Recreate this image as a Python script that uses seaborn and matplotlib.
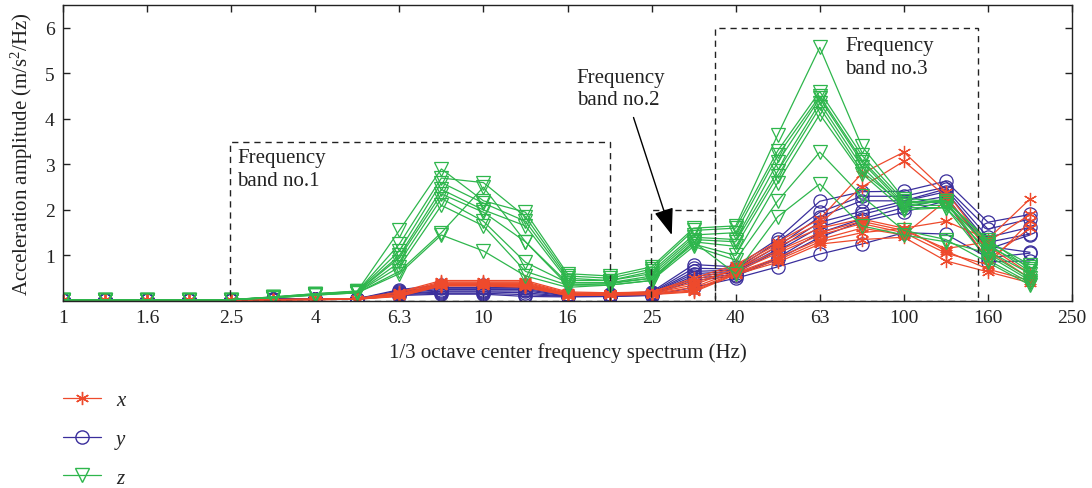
import numpy as np
import pandas as pd
import matplotlib
matplotlib.use("Agg")
import matplotlib.pyplot as plt
from matplotlib.lines import Line2D
from matplotlib.patches import Rectangle
import seaborn as sns

# 1/3 octave centre frequencies (Hz) of the measured bands
freqs = [1, 1.25, 1.6, 2, 2.5, 3.15, 4, 5, 6.3, 8, 10, 12.5, 16, 20,
         25, 31.5, 40, 50, 63, 80, 100, 125, 160, 200]
tick_labels = ["1", "1.6", "2.5", "4", "6.3", "10", "16", "25", "40",
               "63", "100", "160", "250"]

# acceleration amplitude spectra, one list per measuring point, x direction
x_runs = [
    [0.02, 0.02, 0.02, 0.02, 0.02, 0.03, 0.04, 0.05, 0.20, 0.45, 0.45, 0.45, 0.20, 0.18, 0.20, 0.50, 0.80, 1.30, 1.80, 2.80, 3.27, 2.40, 1.20, 0.60],
    [0.02, 0.02, 0.02, 0.02, 0.02, 0.03, 0.04, 0.05, 0.18, 0.42, 0.42, 0.42, 0.18, 0.17, 0.20, 0.45, 0.75, 1.25, 1.70, 2.50, 3.07, 2.30, 1.10, 0.50],
    [0.02, 0.02, 0.02, 0.02, 0.02, 0.03, 0.04, 0.04, 0.15, 0.40, 0.40, 0.40, 0.16, 0.16, 0.18, 0.40, 0.70, 1.20, 1.60, 1.80, 1.60, 1.75, 1.36, 2.24],
    [0.02, 0.02, 0.02, 0.02, 0.02, 0.03, 0.04, 0.04, 0.14, 0.38, 0.38, 0.38, 0.15, 0.15, 0.17, 0.35, 0.70, 1.10, 1.50, 1.75, 1.55, 1.15, 1.30, 1.90],
    [0.02, 0.02, 0.02, 0.02, 0.02, 0.03, 0.03, 0.04, 0.13, 0.36, 0.37, 0.36, 0.14, 0.14, 0.16, 0.30, 0.65, 1.05, 1.45, 1.70, 1.50, 1.05, 0.80, 1.75],
    [0.02, 0.02, 0.02, 0.02, 0.02, 0.03, 0.03, 0.04, 0.12, 0.35, 0.35, 0.34, 0.13, 0.14, 0.15, 0.25, 0.62, 0.95, 1.35, 1.60, 1.45, 2.20, 0.90, 1.60],
    [0.02, 0.02, 0.02, 0.02, 0.02, 0.02, 0.03, 0.04, 0.11, 0.34, 0.34, 0.32, 0.12, 0.13, 0.15, 0.22, 0.60, 0.90, 1.30, 1.50, 1.60, 1.10, 0.70, 0.45],
    [0.02, 0.02, 0.02, 0.02, 0.02, 0.02, 0.03, 0.04, 0.10, 0.33, 0.33, 0.30, 0.12, 0.13, 0.14, 0.20, 0.58, 0.85, 1.25, 1.35, 1.40, 0.88, 0.64, 0.40],
]

# y direction
y_runs = [
    [0.03, 0.03, 0.03, 0.03, 0.03, 0.04, 0.05, 0.05, 0.25, 0.35, 0.35, 0.35, 0.15, 0.15, 0.20, 0.80, 0.75, 1.36, 2.19, 2.40, 2.41, 2.63, 1.73, 1.90],
    [0.03, 0.03, 0.03, 0.03, 0.03, 0.04, 0.05, 0.05, 0.22, 0.30, 0.30, 0.30, 0.14, 0.14, 0.18, 0.72, 0.70, 1.30, 1.95, 2.30, 2.30, 2.50, 1.58, 1.80],
    [0.03, 0.03, 0.03, 0.03, 0.03, 0.04, 0.05, 0.05, 0.20, 0.28, 0.28, 0.28, 0.13, 0.13, 0.17, 0.65, 0.68, 1.20, 1.85, 2.20, 2.20, 2.46, 1.40, 1.62],
    [0.03, 0.03, 0.03, 0.03, 0.03, 0.04, 0.05, 0.05, 0.18, 0.25, 0.25, 0.25, 0.12, 0.12, 0.16, 0.60, 0.65, 1.14, 1.73, 1.97, 2.19, 2.40, 1.29, 1.47],
    [0.03, 0.03, 0.03, 0.03, 0.03, 0.04, 0.04, 0.05, 0.16, 0.22, 0.22, 0.22, 0.11, 0.12, 0.15, 0.55, 0.62, 1.10, 1.62, 1.90, 2.13, 2.30, 1.14, 1.45],
    [0.03, 0.03, 0.03, 0.03, 0.03, 0.03, 0.04, 0.05, 0.15, 0.20, 0.20, 0.18, 0.10, 0.11, 0.14, 0.50, 0.58, 0.95, 1.50, 1.80, 2.05, 2.24, 1.20, 1.07],
    [0.03, 0.03, 0.03, 0.03, 0.03, 0.03, 0.04, 0.04, 0.14, 0.17, 0.17, 0.14, 0.10, 0.10, 0.13, 0.45, 0.55, 0.92, 1.40, 1.75, 1.95, 2.20, 0.86, 0.88],
    [0.03, 0.03, 0.03, 0.03, 0.03, 0.03, 0.04, 0.04, 0.12, 0.15, 0.15, 0.10, 0.09, 0.10, 0.12, 0.30, 0.50, 0.75, 1.03, 1.25, 1.50, 1.47, 0.95, 1.05],
]

# z direction
z_runs = [
    [0.03, 0.03, 0.03, 0.03, 0.03, 0.09, 0.16, 0.22, 1.55, 2.90, 2.20, 1.95, 0.60, 0.55, 0.75, 1.60, 1.65, 3.65, 5.57, 3.40, 2.25, 2.20, 1.30, 0.80],
    [0.03, 0.03, 0.03, 0.03, 0.03, 0.09, 0.16, 0.21, 1.25, 2.70, 2.60, 1.85, 0.55, 0.50, 0.70, 1.55, 1.60, 3.30, 4.60, 3.20, 2.20, 2.15, 1.20, 0.75],
    [0.03, 0.03, 0.03, 0.03, 0.03, 0.08, 0.15, 0.21, 1.10, 2.60, 2.15, 1.75, 0.50, 0.45, 0.65, 1.45, 1.50, 3.20, 4.50, 3.10, 2.15, 2.20, 1.35, 0.70],
    [0.03, 0.03, 0.03, 0.03, 0.03, 0.08, 0.15, 0.20, 1.00, 2.45, 2.00, 1.65, 0.45, 0.45, 0.60, 1.40, 1.35, 3.05, 4.45, 3.05, 2.10, 2.10, 1.25, 0.65],
    [0.03, 0.03, 0.03, 0.03, 0.03, 0.08, 0.15, 0.20, 0.95, 2.35, 1.95, 1.30, 0.40, 0.40, 0.55, 1.35, 1.30, 2.85, 4.35, 2.95, 2.05, 2.05, 1.10, 0.60],
    [0.03, 0.03, 0.03, 0.03, 0.03, 0.08, 0.14, 0.19, 0.85, 2.25, 1.75, 0.85, 0.40, 0.40, 0.50, 1.30, 1.20, 2.75, 4.25, 2.85, 2.10, 2.20, 1.00, 0.45],
    [0.03, 0.03, 0.03, 0.03, 0.03, 0.07, 0.14, 0.19, 0.75, 2.10, 1.65, 0.65, 0.35, 0.38, 0.50, 1.25, 1.00, 2.60, 4.10, 2.80, 2.00, 2.05, 0.90, 0.40],
    [0.03, 0.03, 0.03, 0.03, 0.03, 0.07, 0.13, 0.18, 0.65, 1.50, 2.50, 1.30, 0.35, 0.35, 0.45, 1.20, 0.90, 2.20, 3.27, 2.30, 1.55, 1.35, 0.85, 0.35],
    [0.03, 0.03, 0.03, 0.03, 0.03, 0.07, 0.13, 0.18, 0.60, 1.45, 1.10, 0.55, 0.30, 0.35, 0.45, 1.30, 0.60, 1.85, 2.57, 1.65, 1.45, 1.30, 1.05, 0.50],
]

# frequency bands marked on the chart: (lower edge Hz, upper edge Hz, height)
band_edges = [(2.5, 20, 3.5), (25, 35.5, 2.0), (35.5, 150, 6.0)]


def band_pos(f):
    """Position of a frequency on the 1/3-octave band index axis."""
    return 10 * np.log10(f)


def to_long(runs, direction):
    rows = []
    for r, vals in enumerate(runs):
        for i, v in enumerate(vals):
            rows.append({"band": i, "amp": v, "run": r, "dir": direction})
    return pd.DataFrame(rows)


df_x = to_long(x_runs, "x")
df_y = to_long(y_runs, "y")
df_z = to_long(z_runs, "z")

sns.set_style("ticks")
plt.rcParams["font.family"] = ["Liberation Serif", "DejaVu Serif"]
plt.rcParams["mathtext.fontset"] = "custom"
plt.rcParams["mathtext.rm"] = "Liberation Serif"
plt.rcParams["mathtext.it"] = "Liberation Serif:italic"

red = "#EE4A2C"
blue = "#3A2E9C"
green = "#2EB64C"
ink = "#222222"

fig = plt.figure(figsize=(10.92, 4.89), dpi=100)
ax = fig.add_axes([0.0577, 0.3824, 0.924, 0.6053])

common = dict(x="band", y="amp", units="run", estimator=None, ax=ax,
              linewidth=0.9, legend=False)
sns.lineplot(data=df_y, color=blue, marker="o", markersize=9.5,
             markerfacecolor="none", markeredgecolor=blue,
             markeredgewidth=0.9, **common)
sns.lineplot(data=df_x, color=red, marker=(6, 2, 0), markersize=9.5,
             markeredgecolor=red, markeredgewidth=0.9, **common)
sns.lineplot(data=df_z, color=green, marker="v", markersize=10.5,
             markerfacecolor="none", markeredgecolor=green,
             markeredgewidth=0.9, **common)

# dashed frames around the three frequency bands
for lo, hi, h in band_edges:
    ax.add_patch(Rectangle((band_pos(lo), 0), band_pos(hi) - band_pos(lo), h,
                           fill=False, ec=ink, lw=1.0,
                           ls=(0, (4.5, 3.5)), zorder=5))

txt = dict(fontsize=15, color=ink, linespacing=1.25, va="center",
           ha="left", multialignment="left")
ax.text(4.14, 2.9, "Frequency\nband no.1", **txt)
ax.text(12.22, 4.67, "Frequency\nband no.2", **txt)
ax.text(18.6, 5.36, "Frequency\nband no.3", **txt)
ax.annotate("", xy=(14.48, 1.45), xytext=(13.57, 4.03),
            arrowprops=dict(arrowstyle="-|>,head_length=1.1,head_width=0.4",
                            mutation_scale=15, color="black", lw=1.0,
                            shrinkA=0, shrinkB=0),
            zorder=6)

ax.set_xlim(0, 24)
ax.set_ylim(0, 6.5)
ax.set_xticks(np.arange(0, 25, 2))
ax.set_xticklabels(tick_labels)
ax.set_yticks([1, 2, 3, 4, 5, 6])
ax.tick_params(direction="in", length=5, width=1.0, top=True, right=True,
               labelsize=14, colors=ink, pad=6)
for s in ax.spines.values():
    s.set_color(ink)
    s.set_linewidth(1.0)

ax.set_xlabel("1/3 octave center frequency spectrum (Hz)", fontsize=15,
              color=ink, labelpad=11)
ax.set_ylabel("Acceleration amplitude (m/s$^2$/Hz)", fontsize=15,
              color=ink, labelpad=7)

handles = [
    Line2D([], [], color=red, marker=(6, 2, 0), markersize=9.5,
           markeredgecolor=red, lw=0.9),
    Line2D([], [], color=blue, marker="o", markersize=9.5,
           markerfacecolor="none", markeredgecolor=blue, lw=0.9),
    Line2D([], [], color=green, marker="v", markersize=10.5,
           markerfacecolor="none", markeredgecolor=green, lw=0.9),
]
leg = fig.legend(handles, ["x", "y", "z"], loc="center left",
                 bbox_to_anchor=(0.0577, 0.1), frameon=False,
                 borderpad=0, borderaxespad=0,
                 handlelength=1.8, labelspacing=0.92, handletextpad=0.75,
                 prop={"style": "italic", "size": 15})

fig.savefig("out.png", dpi=100)
